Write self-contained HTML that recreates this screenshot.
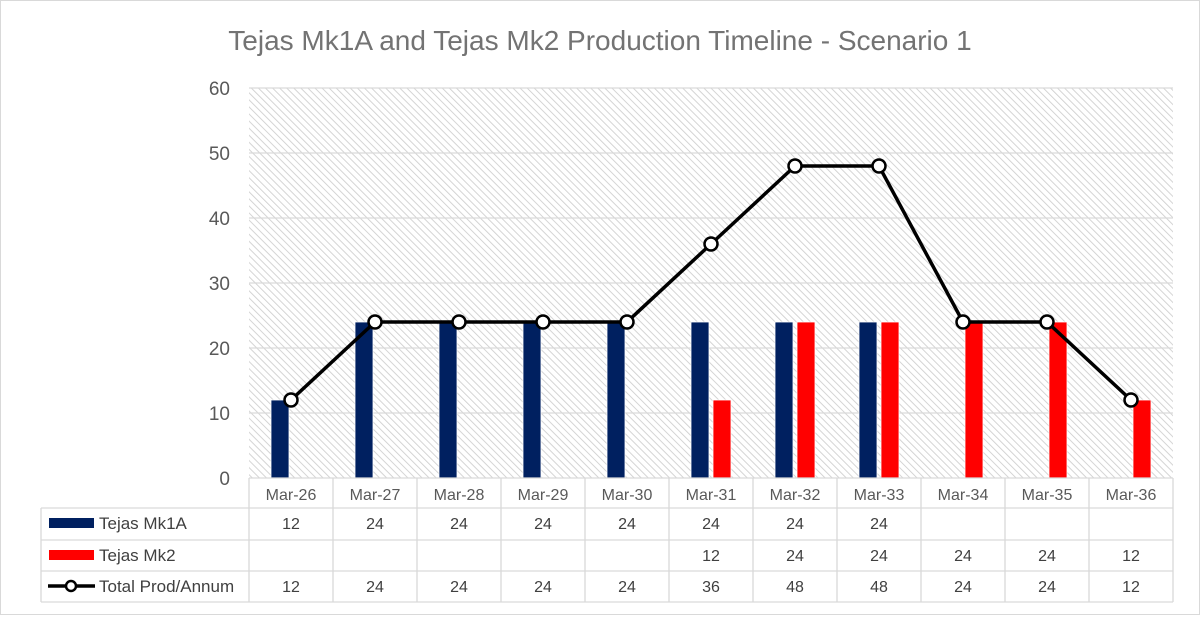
<!DOCTYPE html>
<html><head><meta charset="utf-8"><style>
body{margin:0;background:#fff;font-family:"Liberation Sans",Calibri,sans-serif}
</style></head><body>
<svg width="1200" height="615" viewBox="0 0 1200 615" xmlns="http://www.w3.org/2000/svg">
<defs>
<pattern id="hatch" width="5" height="5" patternUnits="userSpaceOnUse" patternTransform="rotate(-45)">
<rect width="5" height="5" fill="#fff"/><line x1="0" y1="0" x2="0" y2="5" stroke="#d0d0d0" stroke-width="1.8"/>
</pattern>
</defs>
<rect x="0.5" y="0.5" width="1199" height="614" fill="#fff" stroke="#d9d9d9"/>
<text x="600" y="50" text-anchor="middle" font-size="28" fill="#737373">Tejas Mk1A and Tejas Mk2 Production Timeline - Scenario 1</text>
<rect x="249" y="88" width="924" height="390" fill="url(#hatch)"/>
<g id="grid"></g><g id="bars"></g><g id="line"></g><g id="table"></g>
</svg>
<script>
const categories=["Mar-26","Mar-27","Mar-28","Mar-29","Mar-30","Mar-31","Mar-32","Mar-33","Mar-34","Mar-35","Mar-36"];
const mk1a=[12,24,24,24,24,24,24,24,null,null,null];
const mk2=[null,null,null,null,null,12,24,24,24,24,12];
const total=[12,24,24,24,24,36,48,48,24,24,12];
const yTicks=[0,10,20,30,40,50,60];
const NS="http://www.w3.org/2000/svg";
const L=249,R=1173,T=88,B=478,yMax=60;
const cw=(R-L)/categories.length;
const x=i=>L+cw*(i+0.5);
const y=v=>B-(v/yMax)*(B-T);
function mk(tag,attrs,parent,text){const e=document.createElementNS(NS,tag);for(const k in attrs)e.setAttribute(k,attrs[k]);if(text!==undefined)e.textContent=text;document.getElementById(parent).appendChild(e);return e;}
yTicks.forEach(t=>{
  if(t>0){const g=mk('line',{x1:L,x2:R,y1:y(t),y2:y(t),stroke:'#d9d9d9','stroke-width':1.3},'grid');
  
  }
  const tx=mk('text',{x:230,y:y(t)+7,'text-anchor':'end','font-size':19,fill:'#595959'},'grid',t);
  
  
});
categories.forEach((c,i)=>{
  if(mk1a[i]!=null){const b=mk('rect',{x:x(i)-20,y:y(mk1a[i]),width:18,height:B-y(mk1a[i]),fill:'#002060',stroke:'#fff','stroke-width':0.8},'bars');
  
  }
  if(mk2[i]!=null){const b=mk('rect',{x:x(i)+2,y:y(mk2[i]),width:18,height:B-y(mk2[i]),fill:'#ff0000',stroke:'#fff','stroke-width':0.8},'bars');
  
  }
});
const pl=mk('polyline',{points:total.map((v,i)=>x(i)+','+y(v)).join(' '),fill:'none',stroke:'#000','stroke-width':3.5,'stroke-linejoin':'round'},'line');


total.forEach((v,i)=>{const p=mk('circle',{cx:x(i),cy:y(v),r:6.5,fill:'#fff',stroke:'#000','stroke-width':2.5},'line');

});
const rows=[508,540,571,602];
const gs={stroke:'#d9d9d9','stroke-width':1.3};
mk('line',Object.assign({x1:L,x2:R,y1:B,y2:B},gs),'table');
rows.forEach(r=>mk('line',Object.assign({x1:41,x2:R,y1:r,y2:r},gs),'table'));
mk('line',Object.assign({x1:41,x2:41,y1:rows[0],y2:rows[3]},gs),'table');
for(let i=0;i<=categories.length;i++)mk('line',Object.assign({x1:L+cw*i,x2:L+cw*i,y1:B,y2:rows[3]},gs),'table');
categories.forEach((c,i)=>{const t=mk('text',{x:x(i),y:500,'text-anchor':'middle','font-size':16,fill:'#595959'},'table',c);

});
const series=[mk1a,mk2,total];
series.forEach((s,r)=>{s.forEach((v,i)=>{if(v!=null){const t=mk('text',{x:x(i),y:rows[r]+21,'text-anchor':'middle','font-size':16,fill:'#404040'},'table',v);

}});});
const names=["Tejas Mk1A","Tejas Mk2","Total Prod/Annum"];
names.forEach((n,r)=>{
  const cy=rows[r]+15;
  if(r<2){const k=mk('rect',{x:49,y:cy-5,width:45,height:10,fill:r==0?'#002060':'#ff0000'},'table');
  
  }
  else{mk('line',{x1:48,x2:95,y1:cy,y2:cy,stroke:'#000','stroke-width':3.5},'table');
  const k=mk('circle',{cx:71,cy:cy,r:5,fill:'#fff',stroke:'#000','stroke-width':2.5},'table');
  
  }
  const t=mk('text',{x:99,y:cy+6,'font-size':17,fill:'#404040'},'table',n);
  
  
});
</script>
</body></html>
